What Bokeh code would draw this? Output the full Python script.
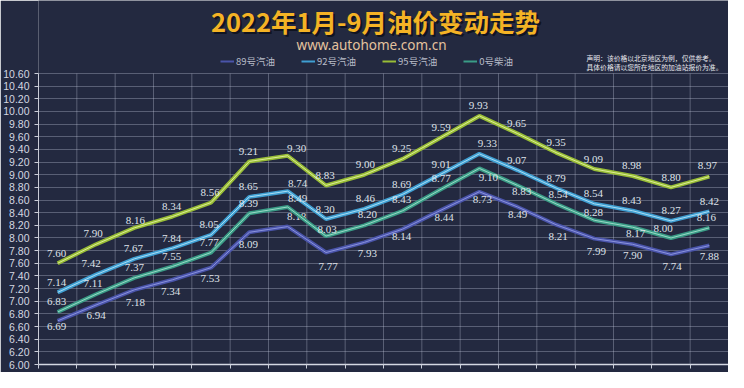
from bokeh.plotting import figure
from bokeh.models import (ColumnDataSource, Range1d, FixedTicker,
                          NumeralTickFormatter, Label, Legend, LegendItem)
from bokeh.embed import file_html
from bokeh.resources import INLINE
from bokeh.core.properties import value

# ---------------- data ----------------
dates = ["1月1日", "1月17日", "1月29日", "2月17日", "3月3日", "3月17日", "3月31日",
         "4月14日", "4月26日", "5月17日", "5月31日", "6月14日", "6月28日", "7月12日",
         "7月26日", "8月9日", "8月23日", "9月6日"]
price_89 = [6.69, 6.94, 7.18, 7.34, 7.53, 8.09, 8.18, 7.77, 7.93, 8.14, 8.44, 8.73,
            8.49, 8.21, 7.99, 7.90, 7.74, 7.88]
price_92 = [7.14, 7.42, 7.67, 7.84, 8.05, 8.65, 8.74, 8.30, 8.46, 8.69, 9.01, 9.33,
            9.07, 8.79, 8.54, 8.43, 8.27, 8.42]
price_95 = [7.60, 7.90, 8.16, 8.34, 8.56, 9.21, 9.30, 8.83, 9.00, 9.25, 9.59, 9.93,
            9.65, 9.35, 9.09, 8.98, 8.80, 8.97]
price_0 = [6.83, 7.11, 7.37, 7.55, 7.77, 8.39, 8.49, 8.03, 8.20, 8.43, 8.77, 9.10,
           8.83, 8.54, 8.28, 8.17, 8.00, 8.16]
series_names = ["89号汽油", "92号汽油", "95号汽油", "0号柴油"]
title_text = "2022年1月-9月油价变动走势"
subtitle_text = "www.autohome.com.cn"
note_lines = ["声明：该价格以北京地区为例，仅供参考。", "具体价格请以您所在地区的加油站报价为准。"]
y_min, y_max, y_step = 6.0, 10.6, 0.2

# ---------------- styles / layout ----------------
W, H = 728, 372
TOP_PX = 73          # pixel row of y_max
BOTTOM_BORDER = 8    # room below the x axis
BG = "#232940"
outer_colors = ["#4a54aa", "#3f9fd2", "#98bd36", "#3a9c86"]
inner_colors = ["#8a93dc", "#a9dcf3", "#dcec96", "#98d8c6"]
# label offsets in pixels (dx, dy; dy positive = downward)
label_dx = [
    [-1, 0, 1, -2, -1, -1, 9, 2, 3, -1, 3, 3, 0, 2, 2, 0, 1, 0],
    [-1, -5, -1, -1, -2, -1, 10, -1, 1, -1, 0, 8, -1, 0, -1, -1, 0, 0],
    [-1, -3, 1, -1, -1, -1, 9, -1, 1, -1, 0, -1, -1, 0, -1, -1, 0, -2],
    [-1, -3, 0, -1, -2, -1, 10, 1, 3, -1, 0, 9, 4, 2, -1, 3, -8, -3],
]
label_dy = [
    [6, 10, 13, 12, 11, 12, -10, 14, 11, 7, 7, 8, 8, 12, 13, 11, 12, 11],
    [-10, -11, -10, -10, -10, -10, -8, -10, -10, -10, -10, -10, -10, -10, -10, -10, -10, -10],
    [-10, -11, -7, -10, -10, -10, -7, -10, -10, -10, -10, -10, -10, -10, -10, -10, -10, -11],
    [-10, -11, -10, -10, -10, -10, -8, -7, -11, -11, -11, 9, 6, -9, -8, 6, -9, -10],
]

n = len(dates)
xs = [i + 0.5 for i in range(n)]
boundaries = list(range(n + 1))
y_ticks = [round(y_min + k * y_step, 2) for k in range(int(round((y_max - y_min) / y_step)) + 1)]
all_series = [price_89, price_92, price_95, price_0]

frame_h = H - BOTTOM_BORDER
px_per_unit = (frame_h - TOP_PX) / (y_max - y_min)
y_top = y_max + TOP_PX / px_per_unit

p = figure(width=W, height=H, x_range=Range1d(0, n), y_range=Range1d(y_min, y_top),
           output_backend="svg", toolbar_location=None,
           min_border_left=0, min_border_right=0, min_border_top=0,
           min_border_bottom=BOTTOM_BORDER,
           background_fill_color=BG, border_fill_color=BG, outline_line_color=None)

# y axis
p.yaxis.ticker = FixedTicker(ticks=y_ticks)
p.yaxis.bounds = (y_min, y_max)
p.yaxis.formatter = NumeralTickFormatter(format="0.00")
p.yaxis.major_label_text_font = "Liberation Sans"
p.yaxis.major_label_text_font_size = "10.5px"
p.yaxis.major_label_text_color = "#d4d7e0"
p.yaxis.major_label_standoff = 5
p.yaxis.major_tick_out = 4
p.yaxis.major_tick_in = 0
p.yaxis.minor_tick_line_color = None
p.yaxis.axis_line_color = "#c9cdd8"
p.yaxis.major_tick_line_color = "#c9cdd8"

# x axis: ticks at category boundaries, labels not painted
p.xaxis.ticker = FixedTicker(ticks=boundaries)
p.xaxis.major_label_text_color = None
p.xaxis.major_label_text_font_size = "1px"
p.xaxis.major_label_standoff = 0
p.xaxis.major_tick_out = 4
p.xaxis.major_tick_in = 0
p.xaxis.minor_tick_line_color = None
p.xaxis.axis_line_color = "#d4d8e2"
p.xaxis.axis_line_width = 1.5
p.xaxis.major_tick_line_color = "#c9cdd8"

# grids (kept inside the value range)
p.xgrid.visible = False
p.ygrid.ticker = FixedTicker(ticks=y_ticks)
p.ygrid.grid_line_color = "#c8cde0"
p.ygrid.grid_line_alpha = 0.33
p.segment(x0=boundaries, y0=[y_min] * len(boundaries), x1=boundaries,
          y1=[y_max] * len(boundaries), line_color="#c8cde0", line_alpha=0.33, line_width=1)

legend_items = []
for k, ys in enumerate(all_series):
    src = ColumnDataSource(dict(
        x=xs, y=ys, date=dates,
        label=[f"{v:.2f}" for v in ys],
        dx=label_dx[k], dy=label_dy[k],
    ))
    p.line("x", "y", source=src, line_color=outer_colors[k], line_width=4)
    p.line("x", "y", source=src, line_color=inner_colors[k], line_width=1)
    p.text("x", "y", text="label", source=src, x_offset="dx", y_offset="dy",
           text_align="center", text_baseline="middle",
           text_font=value("serif"), text_font_size="11px",
           text_color="#dfe1e8")
    key = p.line(x=xs[:1], y=ys[:1], line_color=outer_colors[k], line_width=2)
    legend_items.append(LegendItem(label=series_names[k], renderers=[key]))

# positions below are relative to the frame (x from left, y from bottom)
legend = Legend(items=legend_items, orientation="horizontal", location=(182, 296),
                glyph_width=14, glyph_height=10, label_standoff=2, spacing=26,
                padding=0, margin=0, border_line_color=None, background_fill_alpha=0,
                label_text_font="Noto Sans CJK SC", label_text_font_size="9.5px",
                label_text_color="#b8bcc8", label_height=10)
p.add_layout(legend, "center")

p.add_layout(Label(x=339, y=342, x_units="screen", y_units="screen", text=title_text,
                   text_align="center", text_baseline="middle",
                   text_font="Noto Sans CJK SC", text_font_style="bold",
                   text_font_size="25.5px", text_color="#0a0d16", text_alpha=0.75))
p.add_layout(Label(x=337, y=344, x_units="screen", y_units="screen", text=title_text,
                   text_align="center", text_baseline="middle",
                   text_font="Noto Sans CJK SC", text_font_style="bold",
                   text_font_size="25.5px", text_color="#f4b325"))
p.add_layout(Label(x=333, y=320, x_units="screen", y_units="screen", text=subtitle_text,
                   text_align="center", text_baseline="middle",
                   text_font="Noto Sans", text_font_size="13.5px", text_color="#e3c29e"))
for j, line in enumerate(note_lines):
    p.add_layout(Label(x=548, y=307 - 9 * j, x_units="screen", y_units="screen", text=line,
                       text_align="left", text_baseline="middle",
                       text_font="Noto Sans CJK SC", text_font_size="6.8px",
                       text_color="#e8e8ee"))

open("out.html", "w").write(file_html(p, INLINE))
